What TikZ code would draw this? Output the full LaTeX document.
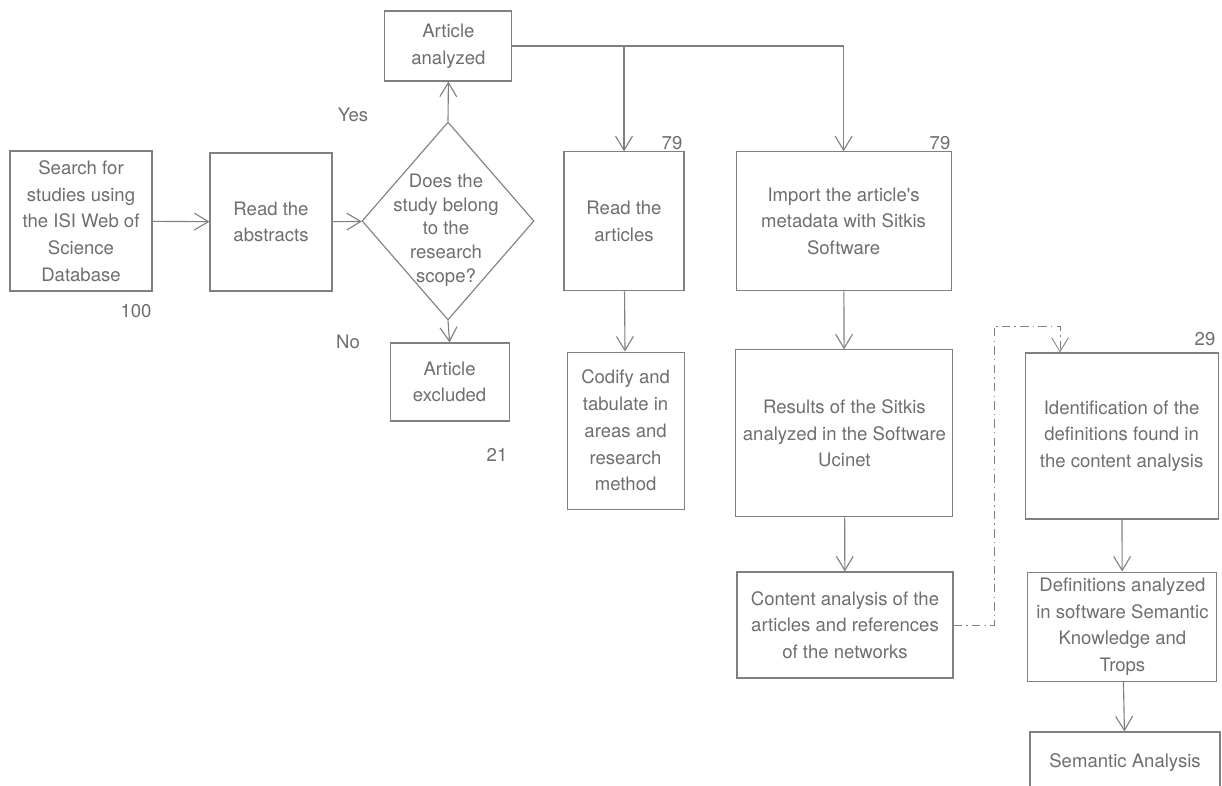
\documentclass[tikz,border=0pt]{standalone}
\usepackage{fontspec}
\setmainfont{TeX Gyre Heros}
\usepackage{tikz}
\usetikzlibrary{arrows.meta, positioning, shapes.geometric, calc}

\definecolor{linegray}{RGB}{128,128,128}
\definecolor{textgray}{RGB}{110,110,110}

\begin{document}
\begin{tikzpicture}[
    procbox/.style={draw=linegray, line width=0.8pt, text=textgray, align=center, inner sep=2pt,
      font=\fontsize{13.2}{19}\selectfont},
    decision/.style={draw=linegray, line width=0.8pt, diamond, inner sep=0pt,
      minimum width=4.3cm, minimum height=4.95cm},
    note/.style={text=textgray, inner sep=0pt, font=\fontsize{13.2}{19}\selectfont},
    flow/.style={draw=linegray, line width=0.8pt, -{Straight Barb[length=10pt, width=12pt]}},
    dashflow/.style={flow, line width=0.6pt, dash pattern=on 6pt off 3pt on 1pt off 3pt},
  ]
  \useasboundingbox (0,0) rectangle (30.55,19.625);

  % first column: search and screening
  \node[procbox, minimum width=3.55cm, minimum height=3.5cm] (search) at (2.025,14.1)
    {Search for\\studies using\\the ISI Web of\\Science\\Database};
  \node[procbox, minimum width=3.05cm, minimum height=3.45cm] (abstracts) at (6.775,14.075)
    {Read the\\abstracts};
  \node[decision] (scope) at (11.2,14.1) {};
  \node[note, align=center, font=\fontsize{13.2}{17}\selectfont] (scopetext) at (11.15,13.87)
    {Does the\\study belong\\to the\\research\\scope?};
  \node[procbox, minimum width=3.175cm, minimum height=1.75cm] (analyzed) at (11.21,18.475)
    {Article\\analyzed};
  \node[procbox, minimum width=2.975cm, minimum height=1.95cm] (excluded) at (11.24,10.075)
    {Article\\excluded};

  % reading of the articles
  \node[procbox, minimum width=3cm, minimum height=3.475cm] (readart) at (15.6,14.09)
    {Read the\\articles};
  \node[procbox, minimum width=2.925cm, minimum height=3.925cm] (codify) at (15.64,8.86)
    {Codify and\\tabulate in\\areas and\\research\\method};

  % network analysis
  \node[procbox, minimum width=5.375cm, minimum height=3.475cm] (import) at (21.09,14.09)
    {Import the article\textquotesingle s\\metadata with Sitkis\\Software};
  \node[procbox, minimum width=5.425cm, minimum height=4.175cm] (results) at (21.11,8.79)
    {Results of the Sitkis\\analyzed in the Software\\Ucinet};
  \node[procbox, minimum width=5.4cm, minimum height=2.65cm] (content) at (21.125,4.0)
    {Content analysis of the\\articles and references\\of the networks};

  % semantic analysis
  \node[procbox, minimum width=4.825cm, minimum height=4.15cm] (ident) at (28.04,8.725)
    {Identification of the\\definitions found in\\the content analysis};
  \node[procbox, minimum width=4.725cm, minimum height=2.725cm] (defs) at (28.06,3.96)
    {Definitions analyzed\\in software Semantic\\Knowledge and\\Trops};
  \node[procbox, minimum width=4.75cm, minimum height=1.55cm] (semantic) at (28.125,0.55)
    {Semantic Analysis};

  % counts and answers
  \node[note] (n100) at (3.4,11.85) {100};
  \node[note] (yes) at (8.825,16.75) {Yes};
  \node[note] (no) at (8.7,11.075) {No};
  \node[note] (n21) at (12.425,8.25) {21};
  \node[note] (n79a) at (16.8,16.05) {79};
  \node[note] (n79b) at (23.5,16.05) {79};
  \node[note] (n29) at (30.125,11.15) {29};

  % connectors
  \draw[flow] (search) -- (abstracts);
  \draw[flow] (abstracts) -- (scope);
  \draw[flow] (scope.north) -- (analyzed.south);
  \draw[flow] (scope.south) -- (excluded.north);
  \draw[flow] (analyzed.east) -| (import.north);
  \draw[flow] (readart.north |- analyzed.east) -- (readart.north);
  \draw[flow] (readart) -- (codify);
  \draw[flow] (import) -- (results);
  \draw[flow] (results) -- (content);
  \draw[flow] (ident) -- (defs);
  \draw[flow] (defs) -- (semantic);

  \coordinate (bendright) at (24.85,11.475);
  \coordinate (bendtop) at (26.5,11.475);
  \draw[dashflow] (content.east) -| (bendright) -- (bendtop) -- (bendtop |- ident.north);
\end{tikzpicture}
\end{document}
